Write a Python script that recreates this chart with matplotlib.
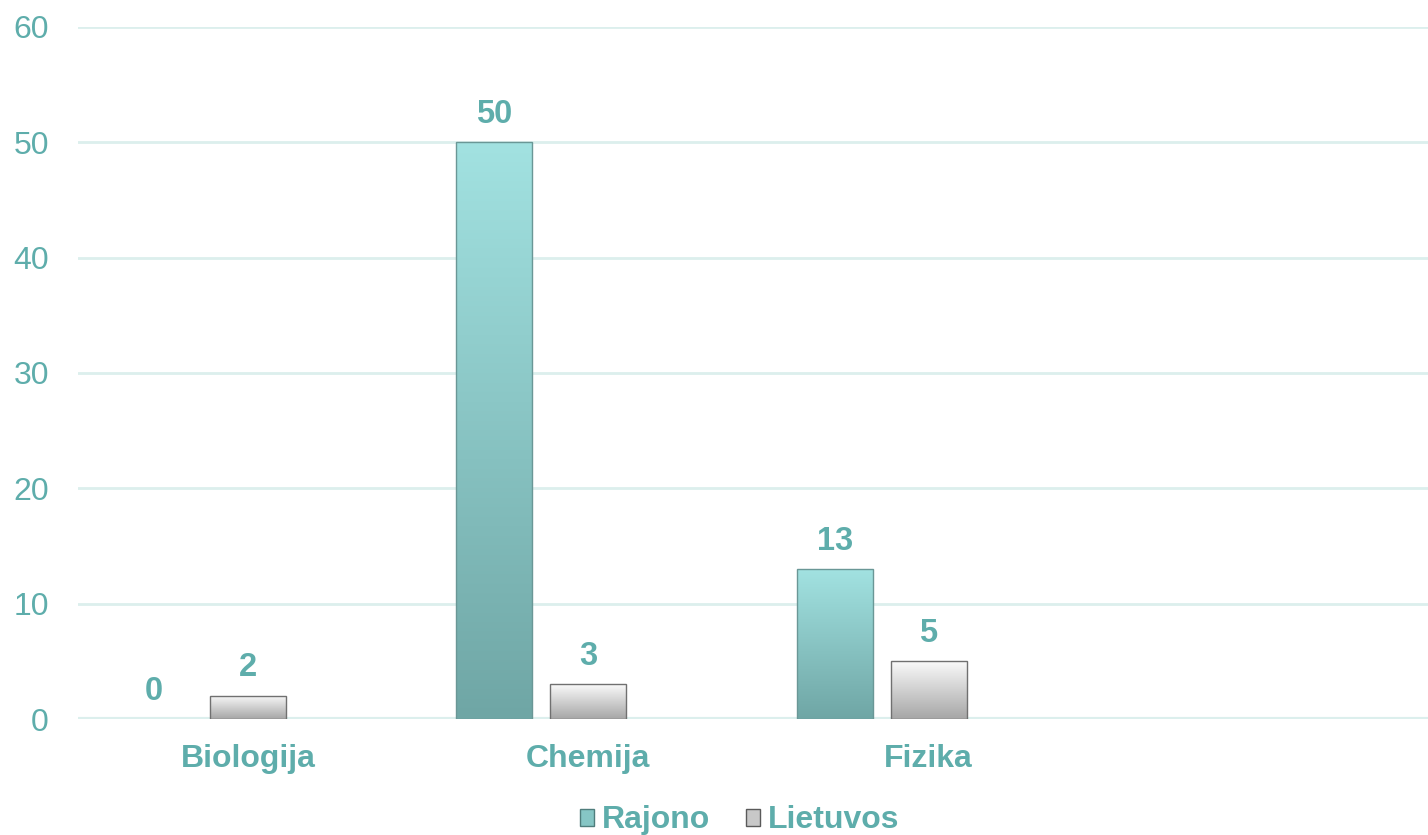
import numpy as np
import matplotlib; matplotlib.use("Agg")
import matplotlib.pyplot as plt
from matplotlib.patches import Patch
from matplotlib.colors import LinearSegmentedColormap

categories = ["Biologija", "Chemija", "Fizika", ""]
rajono = [0, 50, 13, None]
lietuvos = [2, 3, 5, None]
series_names = ["Rajono", "Lietuvos"]

TEXT = "#5eadab"
GRID = "#dcefed"
teal_cm = LinearSegmentedColormap.from_list("teal", ["#a2e2e1", "#6fa6a5"])
gray_cm = LinearSegmentedColormap.from_list("gray", ["#fafafa", "#a6a6a6"])

plt.rcParams["font.family"] = ["Liberation Sans", "DejaVu Sans"]

fig = plt.figure(figsize=(14.28, 8.35), dpi=100)
ax = fig.add_axes([0.0546, 0.1389, 0.9454, 0.8288])

x = np.arange(len(categories))
w = 0.2235
step = 0.276


def grad_bars(xs, vals, cmap, edge):
    xs2 = [xi for xi, v in zip(xs, vals) if v is not None]
    v2 = [v for v in vals if v is not None]
    bars = ax.bar(xs2, v2, width=w, color="none", edgecolor=edge, linewidth=1.0, zorder=3)
    for b, v in zip(bars, v2):
        if v <= 0:
            b.set_edgecolor("none")
            continue
        x0, y0 = b.get_x(), b.get_y()
        grad = np.linspace(0, 1, 256).reshape(-1, 1)
        im = ax.imshow(grad, cmap=cmap, aspect="auto", origin="upper",
                       extent=[x0, x0 + b.get_width(), y0, y0 + b.get_height()], zorder=2)
        im.set_clip_path(b)
    return bars, v2


b1, v1 = grad_bars(x - step, rajono, teal_cm, "#6a9796")
b2, v2 = grad_bars(x, lietuvos, gray_cm, "#707070")

for bars, vals in [(b1, v1), (b2, v2)]:
    for b, v in zip(bars, vals):
        ax.annotate(f"{v}", (b.get_x() + b.get_width() / 2, b.get_height()),
                    xytext=(0, 9), textcoords="offset points", ha="center", va="bottom",
                    fontsize=23.5, fontweight="bold", color=TEXT)

ax.set_xlim(-0.5, 3.468)
ax.set_ylim(0, 60)
ax.set_yticks(range(0, 61, 10))
ax.set_xticks(x)
ax.set_xticklabels(categories, fontsize=23, fontweight="bold", color=TEXT)
ax.tick_params(axis="y", labelsize=23, labelcolor=TEXT, length=0, pad=21)
ax.tick_params(axis="x", length=0, pad=18)
ax.yaxis.grid(True, color=GRID, lw=2)
ax.set_axisbelow(True)
for s in ax.spines.values():
    s.set_visible(False)
ax.axhline(0, color=GRID, lw=3, zorder=1)

handles = [Patch(facecolor="#86c6c5", edgecolor="#4f7d7c"),
           Patch(facecolor="#c8c8c8", edgecolor="#5a5a5a")]
leg = fig.legend(handles, series_names, loc="lower center", bbox_to_anchor=(0.518, -0.035),
                 ncol=2, frameon=False, handlelength=0.45, handleheight=0.45,
                 handletextpad=0.25, columnspacing=1.1,
                 prop={"size": 23, "weight": "bold"})
for t in leg.get_texts():
    t.set_color(TEXT)

fig.savefig("out.png", dpi=100)
